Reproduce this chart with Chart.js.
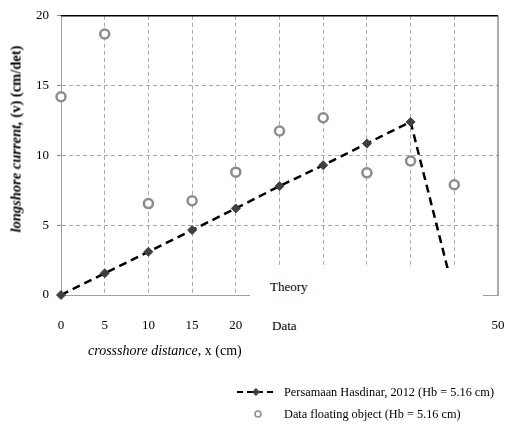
<!DOCTYPE html>
<html>
<head>
<meta charset="utf-8">
<script src="https://cdn.jsdelivr.net/npm/chart.js@4"></script>
<style>
    body { margin: 0; background: #fff; }
    #wrap { position: relative; width: 505px; height: 427px; font-family: 'Liberation Serif', serif; }
    #cover { position: absolute; left: 250px; top: 268px; width: 233px; height: 72px; background: #fff; }
    .lbl { position: absolute; font-size: 13px; color: #000; }
    #ytitle { position: absolute; left: 16px; top: 139px; transform: translate(-50%, -50%) rotate(-90deg); white-space: nowrap; font-size: 14.5px; font-weight: bold; color: #000; }
    #xtitle { position: absolute; left: 88px; top: 343px; white-space: nowrap; font-size: 14px; color: #000; }
    #legend { position: absolute; left: 236px; top: 381px; font-size: 12.3px; color: #000; }
    #legend div { height: 22px; display: flex; align-items: center; }
    #legend svg { margin-right: 8px; }
</style>
</head>
<body>
<div id="wrap">
    <canvas id="chart_v" width="505" height="427"></canvas>
    <div id="cover">
        <span class="lbl" style="left: 20px; top: 11px;">Theory</span>
        <span class="lbl" style="left: 22px; top: 50px;">Data</span>
    </div>
    <div id="ytitle"><i>longshore current,</i> (v) (cm/det)</div>
    <div id="xtitle"><i>crossshore distance</i>, x (cm)</div>
    <div id="legend">
        <div>
            <svg width="40" height="10"><line x1="1" y1="5" x2="39" y2="5" stroke="#000" stroke-width="2" stroke-dasharray="6,4"></line><path d="M20 1 L24 5 L20 9 L16 5 Z" fill="#404040"></path></svg>
            <span>Persamaan Hasdinar, 2012 (Hb = 5.16 cm)</span>
        </div>
        <div>
            <svg width="40" height="10"><circle cx="22" cy="5" r="3" fill="#fff" stroke="#8c8c8c" stroke-width="1.5"></circle></svg>
            <span>Data floating object (Hb = 5.16 cm)</span>
        </div>
    </div>
</div>
<script>
// data
const crossshore = [0, 5, 10, 15, 20, 25, 30, 35, 40, 45]
const theory_v = [0, 1.55, 3.1, 4.65, 6.2, 7.8, 9.3, 10.85, 12.4, 0]
const data_v = [14.2, 18.7, 6.55, 6.75, 8.8, 11.75, 12.7, 8.75, 9.6, 7.9]

const gridColor = '#aaaaaa'
const tickFont = { family: 'Liberation Serif', size: 13 }

// black frame at top and right of the plot area
const frameLines = {
    id: 'frameLines',
    beforeDatasetsDraw(chart) {
        const { ctx, chartArea: a } = chart
        ctx.save()
        ctx.strokeStyle = '#000'
        ctx.lineWidth = 1.5
        ctx.beginPath()
        ctx.moveTo(a.left, a.top)
        ctx.lineTo(a.right, a.top)
        ctx.stroke()
        ctx.strokeStyle = '#555'
        ctx.lineWidth = 1
        ctx.beginPath()
        ctx.moveTo(a.right, a.top)
        ctx.lineTo(a.right, a.bottom)
        ctx.stroke()
        ctx.restore()
    }
}

new Chart(document.getElementById('chart_v'), {
    type: 'scatter',
    data: {
        datasets: [{
            label: 'Persamaan Hasdinar, 2012 (Hb = 5.16 cm)',
            data: crossshore.map((x, i) => ({ x: x, y: theory_v[i] })),
            showLine: true,
            clip: 8,
            borderColor: '#000',
            borderWidth: 2.5,
            borderDash: [8, 5],
            pointStyle: 'rectRot',
            pointRadius: 4.5,
            pointBackgroundColor: '#404040',
            pointBorderColor: '#404040',
            pointBorderWidth: 1
        }, {
            label: 'Data floating object (Hb = 5.16 cm)',
            data: crossshore.map((x, i) => ({ x: x, y: data_v[i] })),
            clip: 8,
            pointStyle: 'circle',
            pointRadius: 4.5,
            pointBackgroundColor: '#fff',
            pointBorderColor: '#8c8c8c',
            pointBorderWidth: 2.5
        }]
    },
    options: {
        responsive: false,
        animation: false,
        layout: { padding: { top: 11, right: 5, left: 0, bottom: 62 } },
        plugins: {
            legend: { display: false },
            tooltip: { enabled: false }
        },
        scales: {
            x: {
                type: 'linear',
                min: 0,
                max: 50,
                afterFit: (scale) => { scale.height = 70; scale.paddingLeft = 0; scale.paddingRight = 0 },
                ticks: { stepSize: 5, padding: 23, color: '#000', font: tickFont, maxRotation: 0 },
                grid: {
                    color: (c) => (c.tick && (c.tick.value === 0 || c.tick.value === 50)) ? 'rgba(0,0,0,0)' : gridColor,
                    lineWidth: 1,
                    drawTicks: false
                },
                border: { color: '#a0a0a0', width: 1, dash: [4, 3] }
            },
            y: {
                min: 0,
                max: 20,
                afterFit: (scale) => { scale.width = 61 },
                ticks: { stepSize: 5, padding: 8, color: '#000', font: tickFont },
                grid: {
                    color: (c) => (c.tick && (c.tick.value === 0 || c.tick.value === 20)) ? 'rgba(0,0,0,0)' : gridColor,
                    lineWidth: 1,
                    tickLength: 4,
                    tickColor: '#888'
                },
                border: { color: '#a0a0a0', width: 1, dash: [4, 3] }
            }
        }
    },
    plugins: [frameLines]
});
</script>
</body>
</html>
